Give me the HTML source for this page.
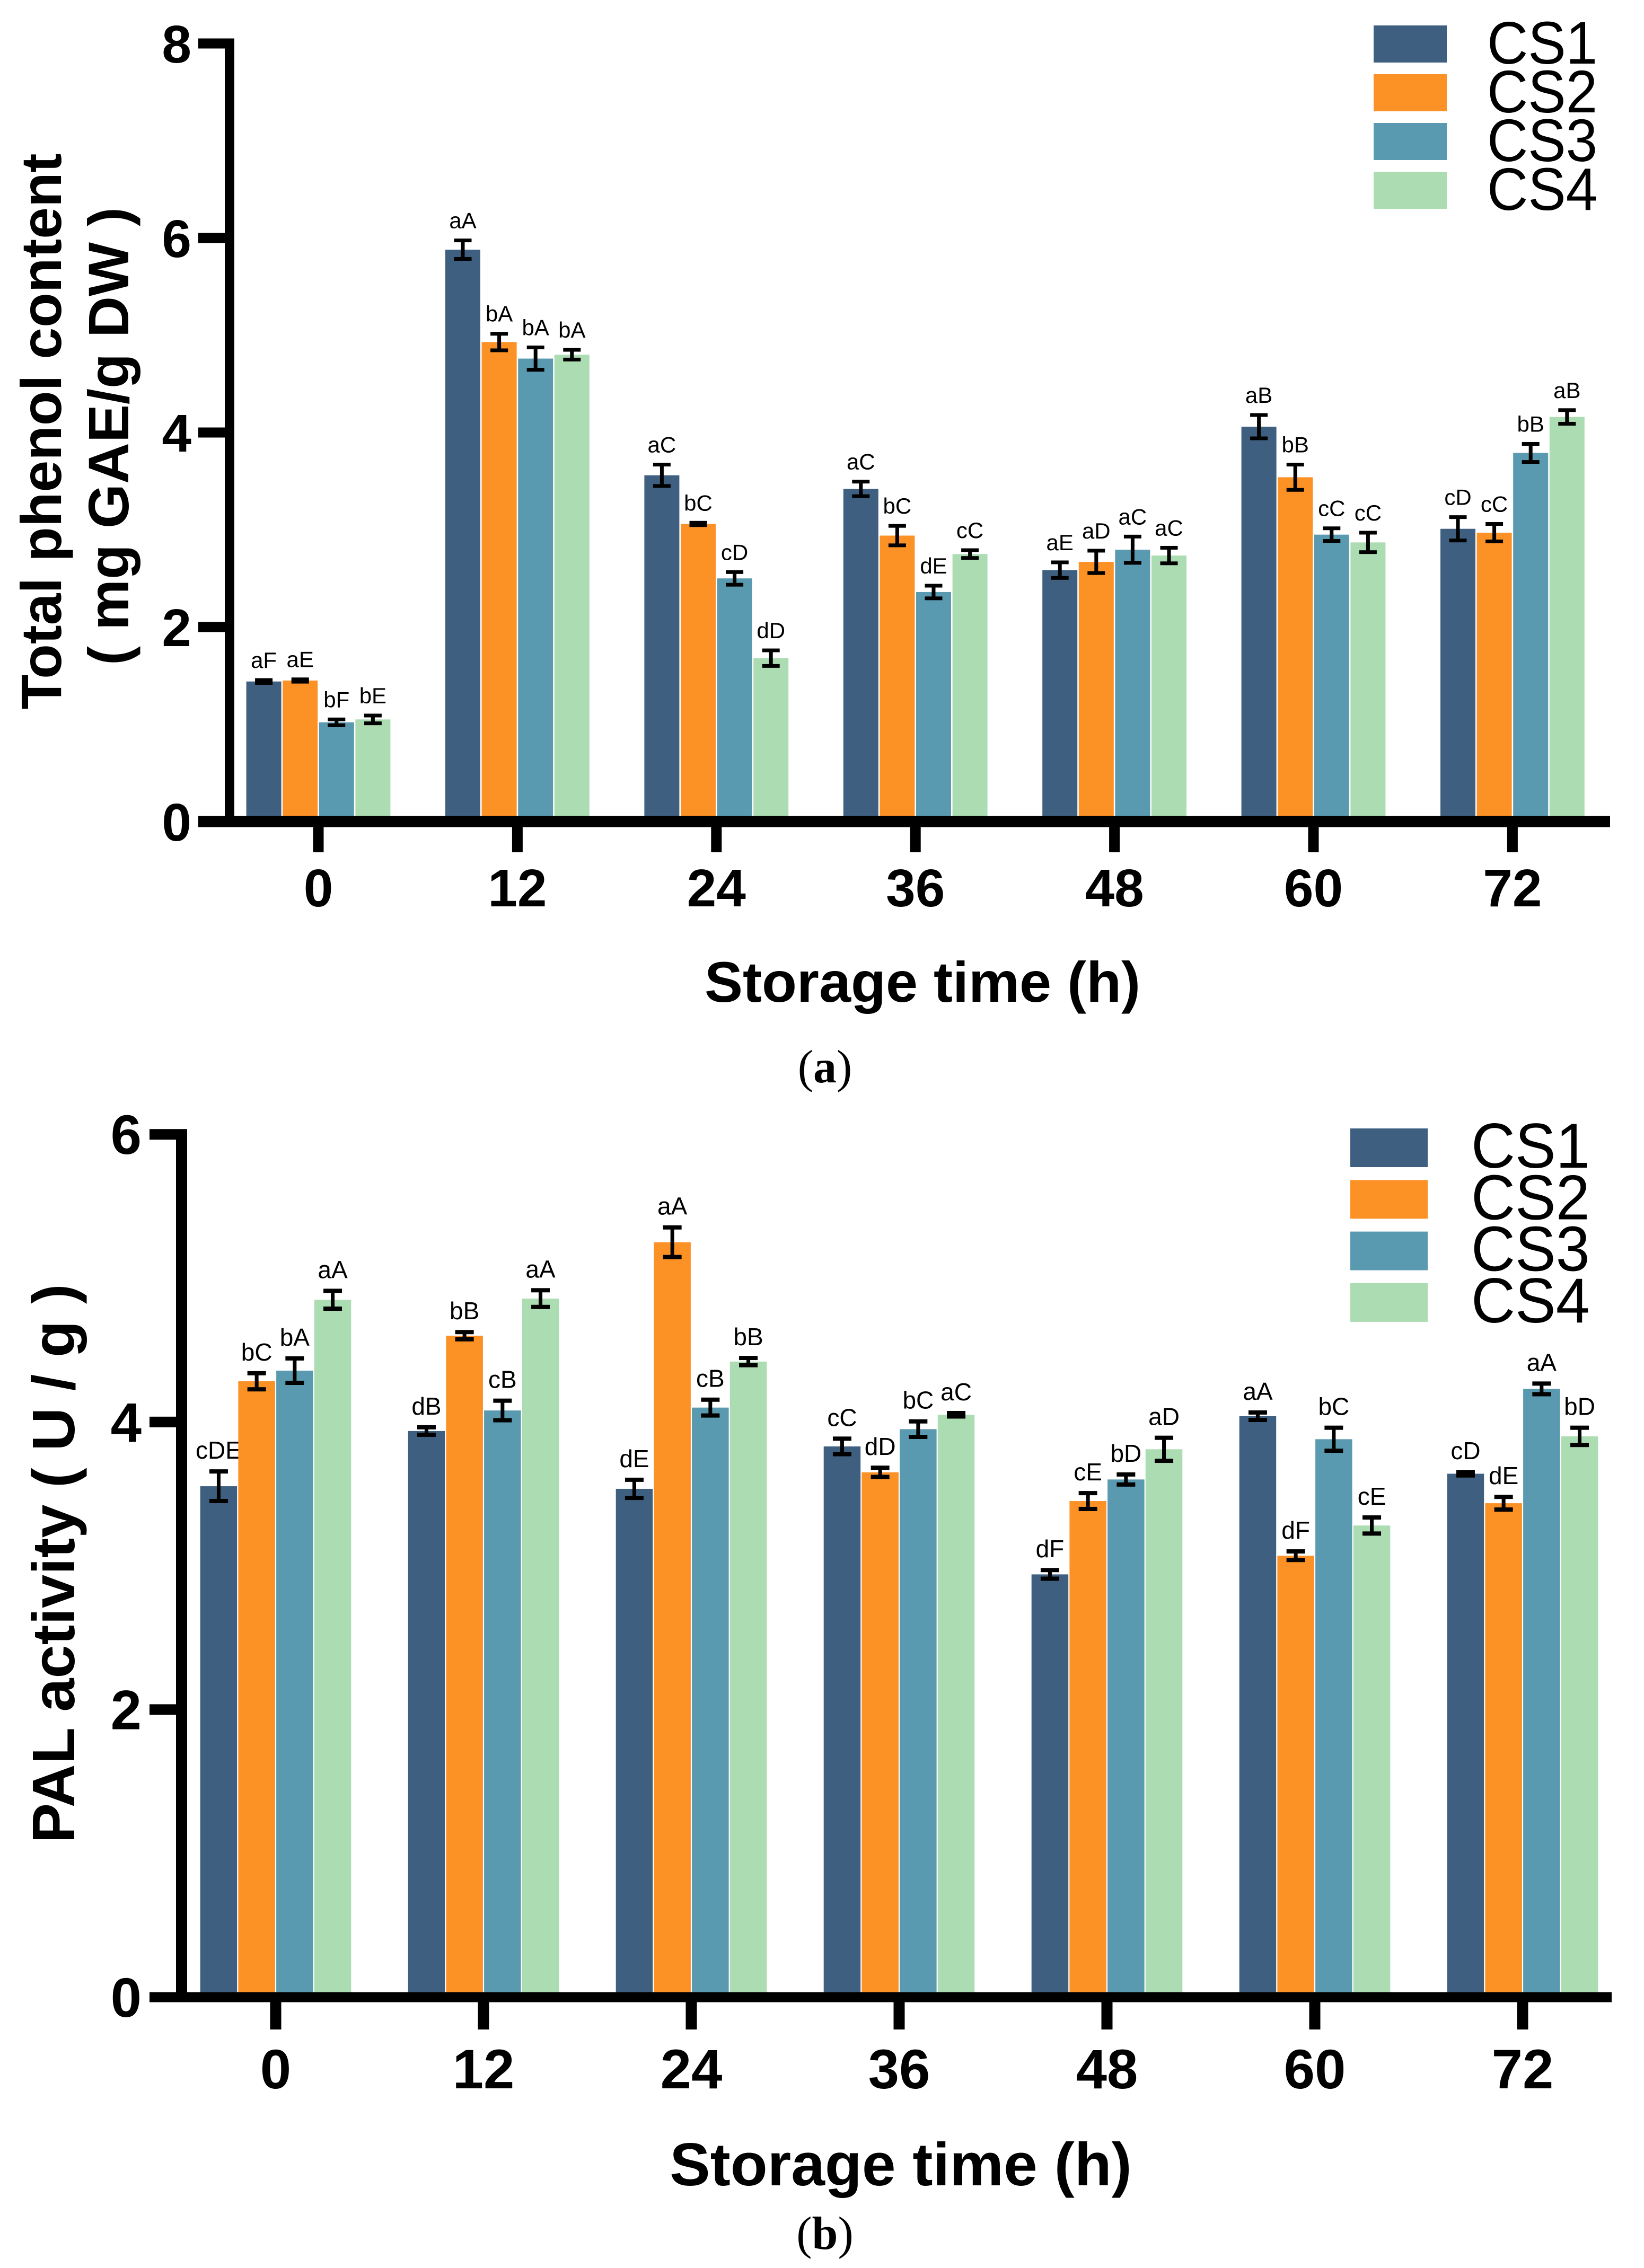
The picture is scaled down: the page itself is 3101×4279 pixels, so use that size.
<!DOCTYPE html>
<html lang="en">
<head>
<meta charset="utf-8">
<title>Total phenol content and PAL activity during storage</title>
<style>
html,body{margin:0;padding:0;background:#fff;width:3101px;height:4279px;overflow:hidden}
svg{display:block}
text{font-family:"Liberation Sans",Arial,sans-serif;fill:#000}
.serif{font-family:"Liberation Serif","Times New Roman",serif}
</style>
</head>
<body>
<svg id="figure" xmlns="http://www.w3.org/2000/svg" width="3101" height="4279" viewBox="0 0 3101 4279">
  <rect x="0" y="0" width="3101" height="4279" fill="#ffffff"/>
  <g id="chart-a">
    <text transform="translate(115 814) rotate(-90)" text-anchor="middle" font-size="107.5" font-weight="700">Total phenol content</text>
    <text transform="translate(242 823) rotate(-90)" text-anchor="middle" font-size="108" font-weight="700">( mg GAE/g DW )</text>
    <text x="1740" y="1890" text-anchor="middle" font-size="108" font-weight="700">Storage time (h)</text>
  </g>
  <text class="serif" x="1556" y="2042" text-anchor="middle" font-size="88">(<tspan class="serif" font-weight="700">a</tspan>)</text>
  <g id="chart-b">
    <text transform="translate(140 2950) rotate(-90)" text-anchor="middle" font-size="113.5" font-weight="700">PAL activity ( U / g )</text>
    <text x="1699" y="4123" text-anchor="middle" font-size="114.5" font-weight="700">Storage time (h)</text>
  </g>
  <text class="serif" x="1556" y="4243" text-anchor="middle" font-size="88">(<tspan class="serif" font-weight="700">b</tspan>)</text>
</svg>
<script>
// ---- shared data ----
const categories = ['0', '12', '24', '36', '48', '60', '72'];
const seriesNames = ['CS1', 'CS2', 'CS3', 'CS4'];
const seriesColors = ['#3e5f80', '#fc9126', '#5a9ab0', '#acdcb2'];

// ---- panel (a): total phenol content ----
const phenolTicks = [0, 2, 4, 6, 8];
const phenolCS1 = [1.44, 5.88, 3.56, 3.42, 2.585, 4.06, 3.01];
const phenolCS2 = [1.45, 4.93, 3.06, 2.94, 2.67, 3.54, 2.97];
const phenolCS3 = [1.02, 4.76, 2.50, 2.36, 2.795, 2.95, 3.79];
const phenolCS4 = [1.05, 4.80, 1.68, 2.75, 2.735, 2.87, 4.16];
const phenolErrCS1 = [0.015, 0.095, 0.11, 0.075, 0.08, 0.12, 0.12];
const phenolErrCS2 = [0.012, 0.085, 0.012, 0.10, 0.115, 0.13, 0.09];
const phenolErrCS3 = [0.03, 0.115, 0.065, 0.065, 0.135, 0.065, 0.093];
const phenolErrCS4 = [0.04, 0.05, 0.08, 0.04, 0.08, 0.10, 0.07];
const phenolSigCS1 = ['aF', 'aA', 'aC', 'aC', 'aE', 'aB', 'cD'];
const phenolSigCS2 = ['aE', 'bA', 'bC', 'bC', 'aD', 'bB', 'cC'];
const phenolSigCS3 = ['bF', 'bA', 'cD', 'dE', 'aC', 'cC', 'bB'];
const phenolSigCS4 = ['bE', 'bA', 'dD', 'cC', 'aC', 'cC', 'aB'];

// ---- panel (b): PAL activity ----
const palTicks = [0, 2, 4, 6];
const palCS1 = [3.553, 3.937, 3.535, 3.83, 2.94, 4.04, 3.64];
const palCS2 = [4.283, 4.60, 5.25, 3.65, 3.45, 3.07, 3.435];
const palCS3 = [4.357, 4.08, 4.10, 3.95, 3.60, 3.88, 4.23];
const palCS4 = [4.85, 4.858, 4.42, 4.05, 3.81, 3.28, 3.90];
const palErrCS1 = [0.103, 0.026, 0.063, 0.054, 0.03, 0.026, 0.012];
const palErrCS2 = [0.056, 0.025, 0.103, 0.032, 0.055, 0.03, 0.044];
const palErrCS3 = [0.085, 0.068, 0.055, 0.054, 0.035, 0.08, 0.037];
const palErrCS4 = [0.062, 0.058, 0.025, 0.012, 0.08, 0.056, 0.06];
const palSigCS1 = ['cDE', 'dB', 'dE', 'cC', 'dF', 'aA', 'cD'];
const palSigCS2 = ['bC', 'bB', 'aA', 'dD', 'cE', 'dF', 'dE'];
const palSigCS3 = ['bA', 'cB', 'cB', 'bC', 'bD', 'bC', 'aA'];
const palSigCS4 = ['aA', 'aA', 'bB', 'aC', 'aD', 'cE', 'bD'];

const SVG_NS = 'http://www.w3.org/2000/svg';

function rect(parent, x, y, w, h, fill) {
  const el = document.createElementNS(SVG_NS, 'rect');
  el.setAttribute('x', x);
  el.setAttribute('y', y);
  el.setAttribute('width', w);
  el.setAttribute('height', h);
  el.setAttribute('fill', fill);
  parent.appendChild(el);
  return el;
}

function label(parent, x, y, str, size, anchor, weight) {
  const el = document.createElementNS(SVG_NS, 'text');
  el.setAttribute('x', x);
  el.setAttribute('y', y);
  el.setAttribute('font-size', size);
  el.setAttribute('text-anchor', anchor);
  el.setAttribute('font-weight', weight);
  el.textContent = str;
  parent.appendChild(el);
  return el;
}

function drawPanel(root, g, values, errors, sigs, ticks) {
  const yScale = v => g.y0 - g.yUnit * v;
  const xScale = i => g.x0 + g.xStep * i;

  // bars, error bars, significance letters
  values.forEach((series, s) => {
    series.forEach((v, i) => {
      const cx = xScale(i) + (s - 1.5) * g.pitch;
      const bar = rect(root, cx - g.barW / 2, yScale(v), g.barW, yScale(0) - yScale(v), seriesColors[s]);
      
      

      const e = errors[s][i];
      const top = yScale(v + e);
      const bottom = yScale(v - e);
      const stem = rect(root, cx - g.stem / 2, top, g.stem, bottom - top, '#000');
      
      
      const capTop = rect(root, cx - g.capW / 2, top - g.capT / 2, g.capW, g.capT, '#000');
      
      
      const capBottom = rect(root, cx - g.capW / 2, bottom - g.capT / 2, g.capW, g.capT, '#000');
      
      

      const sig = label(root, cx, top - g.sigGap, sigs[s][i], g.sigSize, 'middle', 400);
      
      
    });
  });

  // y axis
  const topV = ticks[ticks.length - 1];
  const yLine = rect(root, g.axisX, yScale(topV) - g.tickT / 2, g.axisW, yScale(0) - yScale(topV) + g.tickT / 2, '#000');
  
  
  ticks.forEach(t => {
    if (t !== 0) {
      const tk = rect(root, g.axisLeft, yScale(t) - g.tickT / 2, g.axisX - g.axisLeft, g.tickT, '#000');
      
      
    }
    const tl = label(root, g.yLabelX, yScale(t) + g.yLabelDy, String(t), g.tickSize, 'end', 700);
    
    
  });

  // x axis
  const xLine = rect(root, g.axisLeft, yScale(0) - g.baseT / 2, g.axisRight - g.axisLeft, g.baseT, '#000');
  
  
  categories.forEach((c, i) => {
    const tk = rect(root, xScale(i) - g.xTickW / 2, yScale(0), g.xTickW, g.xTickH, '#000');
    
    
    const tl = label(root, xScale(i), g.xLabelY, c, g.tickSize, 'middle', 700);
    
    
  });

  // legend
  seriesNames.forEach((n, s) => {
    const sw = rect(root, g.legX, g.legY + s * g.legStep, g.legW, g.legH, seriesColors[s]);
    
    
    const lt = label(root, 0, 0, n, g.legSize, 'start', 400);
    lt.setAttribute('transform', 'translate(' + g.legTextX + ' ' + (g.legTextY + s * g.legStep) + ') scale(1 ' + g.legStretch + ')');
    
    
  });
}

drawPanel(
  document.getElementById('chart-a'),
  { y0: 1550, yUnit: 183.5, x0: 600.5, xStep: 375.4, pitch: 68.6, barW: 66,
    stem: 7, capW: 33, capT: 7, sigGap: 23, sigSize: 42,
    axisX: 424, axisW: 18, axisLeft: 374, axisRight: 3037, tickT: 19, baseT: 21,
    yLabelX: 361, yLabelDy: 36, tickSize: 100,
    xTickW: 20, xTickH: 58, xLabelY: 1710,
    legX: 2591, legY: 48, legStep: 92, legW: 138, legH: 70,
    legTextX: 2805, legTextY: 120, legSize: 107, legStretch: 1.06 },
  [phenolCS1, phenolCS2, phenolCS3, phenolCS4],
  [phenolErrCS1, phenolErrCS2, phenolErrCS3, phenolErrCS4],
  [phenolSigCS1, phenolSigCS2, phenolSigCS3, phenolSigCS4],
  phenolTicks
);

drawPanel(
  document.getElementById('chart-b'),
  { y0: 3768, yUnit: 271.3, x0: 520, xStep: 392, pitch: 71.7, barW: 69.5,
    stem: 7, capW: 35, capT: 8, sigGap: 24, sigSize: 46,
    axisX: 332, axisW: 21, axisLeft: 282, axisRight: 3040, tickT: 20, baseT: 19,
    yLabelX: 267, yLabelDy: 37, tickSize: 105,
    xTickW: 21, xTickH: 61, xLabelY: 3940,
    legX: 2547, legY: 2129, legStep: 97.3, legW: 146, legH: 73,
    legTextX: 2775, legTextY: 2203, legSize: 115, legStretch: 1.04 },
  [palCS1, palCS2, palCS3, palCS4],
  [palErrCS1, palErrCS2, palErrCS3, palErrCS4],
  [palSigCS1, palSigCS2, palSigCS3, palSigCS4],
  palTicks
);
</script>
</body>
</html>
